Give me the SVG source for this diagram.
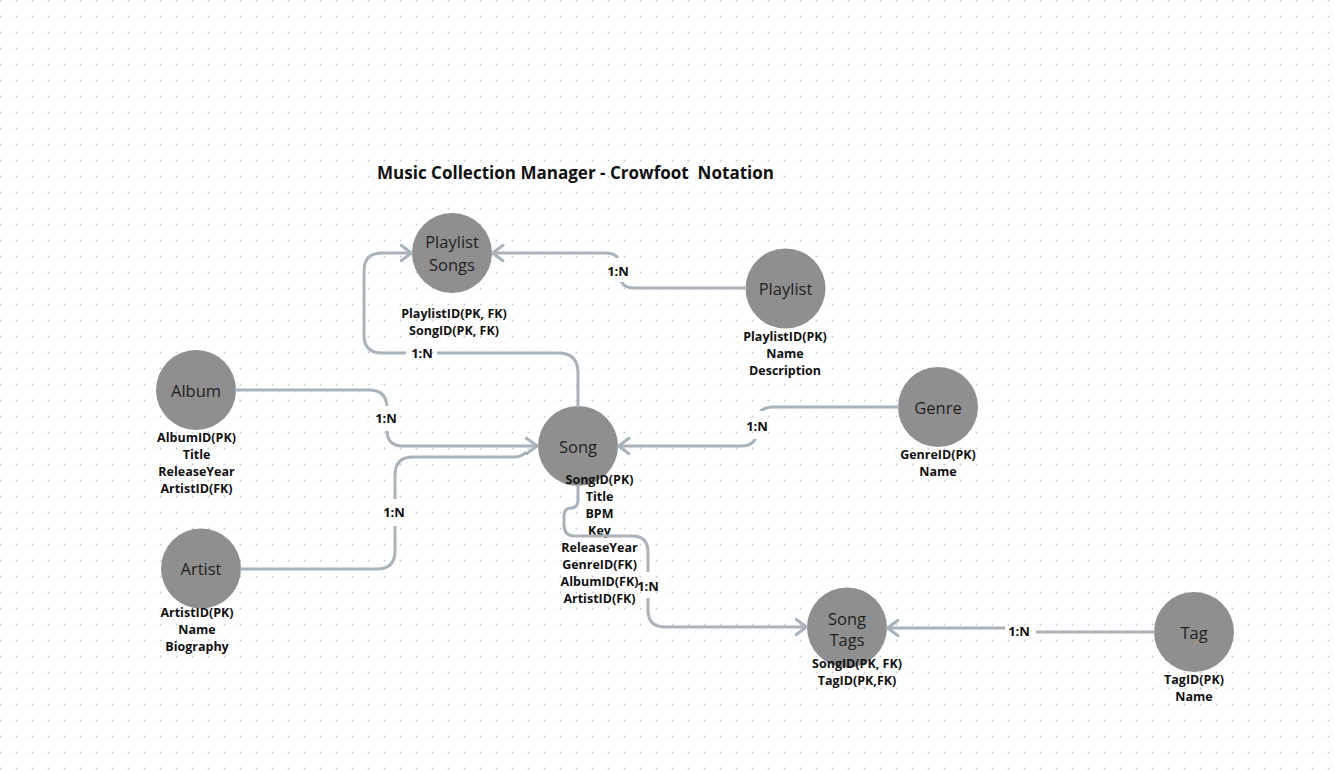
<svg xmlns="http://www.w3.org/2000/svg" width="1334" height="771" viewBox="0 0 1334 771">
  <style>
    .node { fill: #8f8f8f; }
    .nlabel { font-family: "Open Sans", "Liberation Sans", sans-serif; font-size: 16.5px; fill: #1f1f1f; text-anchor: middle; }
    .attr { font-family: "Open Sans", "Liberation Sans", sans-serif; font-size: 12.5px; font-weight: 700; fill: #111111; text-anchor: middle; }
    .card { font-family: "Open Sans", "Liberation Sans", sans-serif; font-size: 13px; font-weight: 700; fill: #111111; text-anchor: middle; }
    .title { font-family: "Open Sans", "Liberation Sans", sans-serif; font-size: 17.4px; font-weight: 700; fill: #111111; text-anchor: middle; white-space: pre; }
    .conn { fill: none; stroke: #aab2ba; stroke-width: 3; stroke-linecap: round; stroke-linejoin: round; }
  </style>
  <defs>
    <pattern id="dots" x="-8" y="-8" width="16" height="16" patternUnits="userSpaceOnUse">
      <circle cx="8.5" cy="8.5" r="1" fill="#c6c6d8"/>
    </pattern>
    <marker id="arr" markerUnits="userSpaceOnUse" viewBox="0 0 14 20" refX="12" refY="10" markerWidth="14" markerHeight="20" orient="auto">
      <path d="M 1.5 2.3 L 12 10 L 1.5 17.7" fill="none" stroke="#aab2ba" stroke-width="3" stroke-linecap="round" stroke-linejoin="round"/>
    </marker>
    <mask id="gaps" maskUnits="userSpaceOnUse" x="0" y="0" width="1334" height="771">
      <rect x="0" y="0" width="1334" height="771" fill="#fff"/>
      <rect x="605" y="258" width="27" height="24" fill="#000"/>
      <rect x="406" y="343" width="31" height="20" fill="#000"/>
      <rect x="372" y="406" width="30" height="25" fill="#000"/>
      <rect x="382" y="499" width="26" height="27" fill="#000"/>
      <rect x="744" y="411" width="26" height="28" fill="#000"/>
      <rect x="635" y="572" width="27" height="26" fill="#000"/>
      <rect x="1005" y="620" width="31" height="20" fill="#000"/>
    </mask>
  </defs>

  <rect x="0" y="0" width="1334" height="771" fill="#ffffff"/>
  <rect x="0" y="0" width="1334" height="771" fill="url(#dots)"/>

  <text class="title" x="575.5" y="179" textLength="397" lengthAdjust="spacingAndGlyphs" xml:space="preserve">Music Collection Manager - Crowfoot  Notation</text>

  <g id="node-playlist-songs">
    <circle class="node" cx="452" cy="253" r="40"/>
    <text class="nlabel" x="452" y="247.5">Playlist</text>
    <text class="nlabel" x="452" y="270.5">Songs</text>
    <text class="attr" x="454" y="317.5">PlaylistID(PK, FK)</text>
    <text class="attr" x="454" y="334.5">SongID(PK, FK)</text>
  </g>

  <g id="node-playlist">
    <circle class="node" cx="785.5" cy="288.5" r="40"/>
    <text class="nlabel" x="785.5" y="294.5">Playlist</text>
    <text class="attr" x="785" y="340.5">PlaylistID(PK)</text>
    <text class="attr" x="785" y="357.5">Name</text>
    <text class="attr" x="785" y="374.5">Description</text>
  </g>

  <g id="node-album">
    <circle class="node" cx="196" cy="390" r="40"/>
    <text class="nlabel" x="196" y="396.5">Album</text>
    <text class="attr" x="196.5" y="442">AlbumID(PK)</text>
    <text class="attr" x="196.5" y="459">Title</text>
    <text class="attr" x="196.5" y="476">ReleaseYear</text>
    <text class="attr" x="196.5" y="493">ArtistID(FK)</text>
  </g>

  <g id="node-artist">
    <circle class="node" cx="201" cy="568.5" r="40"/>
    <text class="nlabel" x="201" y="575">Artist</text>
    <text class="attr" x="197" y="617">ArtistID(PK)</text>
    <text class="attr" x="197" y="634">Name</text>
    <text class="attr" x="197" y="651">Biography</text>
  </g>

  <g id="node-song">
    <circle class="node" cx="578" cy="446" r="40"/>
    <text class="nlabel" x="578" y="452.5">Song</text>
    <text class="attr" x="599.5" y="484">SongID(PK)</text>
    <text class="attr" x="599.5" y="501">Title</text>
    <text class="attr" x="599.5" y="518">BPM</text>
    <text class="attr" x="599.5" y="535">Key</text>
    <text class="attr" x="599.5" y="552">ReleaseYear</text>
    <text class="attr" x="599.5" y="569">GenreID(FK)</text>
    <text class="attr" x="599.5" y="586">AlbumID(FK)</text>
    <text class="attr" x="599.5" y="603">ArtistID(FK)</text>
  </g>

  <g id="node-genre">
    <circle class="node" cx="938" cy="407" r="40"/>
    <text class="nlabel" x="938" y="413.5">Genre</text>
    <text class="attr" x="938" y="459">GenreID(PK)</text>
    <text class="attr" x="938" y="476">Name</text>
  </g>

  <g id="node-song-tags">
    <circle class="node" cx="847" cy="627.5" r="40"/>
    <text class="nlabel" x="847" y="624.5">Song</text>
    <text class="nlabel" x="847" y="645.5">Tags</text>
    <text class="attr" x="857" y="668">SongID(PK, FK)</text>
    <text class="attr" x="857" y="685">TagID(PK,FK)</text>
  </g>

  <g id="node-tag">
    <circle class="node" cx="1194" cy="632" r="40"/>
    <text class="nlabel" x="1194" y="638.5">Tag</text>
    <text class="attr" x="1194" y="683.5">TagID(PK)</text>
    <text class="attr" x="1194" y="700.5">Name</text>
  </g>

  <g id="connectors">
    <g mask="url(#gaps)">
      <path class="conn" marker-end="url(#arr)" d="M 746 288 H 634 Q 620 288 620 274 V 267 Q 620 253 606 253 H 492.5"/>
      <path class="conn" marker-end="url(#arr)" d="M 578 406 V 373 Q 578 353 558 353 H 382 Q 364 353 364 335 V 271 Q 364 253 382 253 H 411.5"/>
      <path class="conn" marker-end="url(#arr)" d="M 236 390 H 369 Q 387 390 387 408 V 430 Q 387 446 403 446 H 537"/>
      <path class="conn" d="M 241 569 H 377 Q 395 569 395 551 V 475 Q 395 457 413 457 H 514 Q 521 457 525 453"/>
      <path class="conn" marker-end="url(#arr)" d="M 898 407 H 773 Q 757 407 757 423 V 430 Q 757 446 741 446 H 618.5"/>
      <path class="conn" marker-end="url(#arr)" d="M 578 486 V 500 Q 578 508 571 508 Q 564 508 564 516 V 525 Q 564 536 575 536 H 632 Q 648 536 648 552 V 610 Q 648 627 665 627 H 806.5"/>
      <path class="conn" marker-end="url(#arr)" d="M 1154 632 H 1030 L 1010 628 H 887.5"/>
    </g>
    <text class="card" x="618" y="275.6">1:N</text>
    <text class="card" x="422" y="357.6">1:N</text>
    <text class="card" x="386" y="422.6">1:N</text>
    <text class="card" x="394" y="516.6">1:N</text>
    <text class="card" x="757" y="431">1:N</text>
    <text class="card" x="648" y="590.6">1:N</text>
    <text class="card" x="1019" y="635.6">1:N</text>
  </g>
</svg>
